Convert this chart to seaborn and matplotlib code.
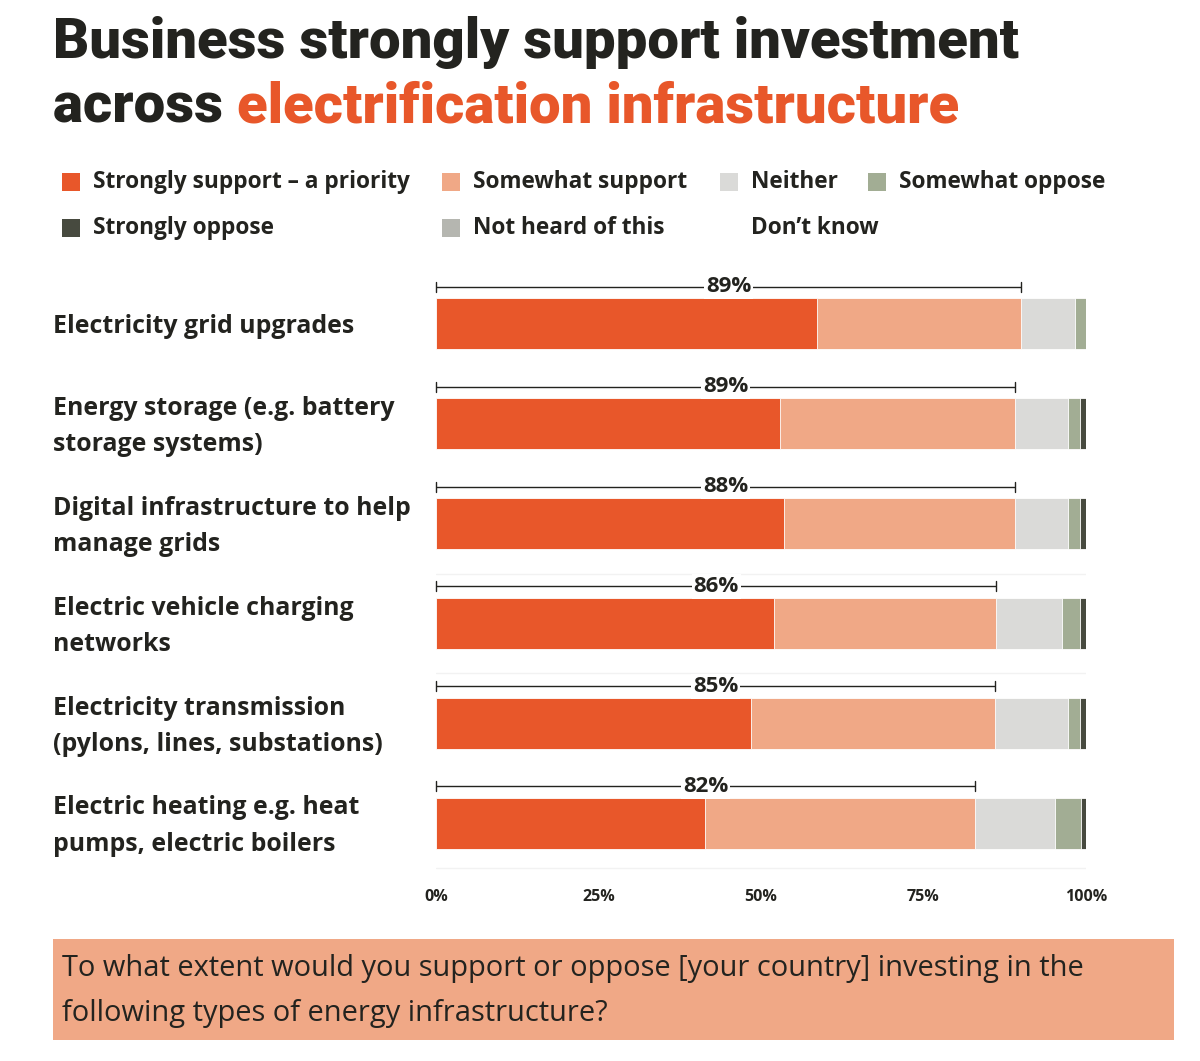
import matplotlib
matplotlib.use("Agg")
import matplotlib.pyplot as plt
import matplotlib.transforms as mtransforms
from matplotlib.patches import Rectangle
import seaborn as sns
import numpy as np
import pandas as pd

#---- Data -------------------------------------------------------------####

categories = [
    "Electricity grid upgrades",
    "Energy storage (e.g. battery\nstorage systems)",
    "Digital infrastructure to help\nmanage grids",
    "Electric vehicle charging\nnetworks",
    "Electricity transmission\n(pylons, lines, substations)",
    "Electric heating e.g. heat\npumps, electric boilers",
]
strongly_support = [58.6, 53.0, 53.5, 52.0, 48.5, 41.4]
somewhat_support = [31.4, 36.1, 35.6, 34.2, 37.5, 41.5]
neither = [8.3, 8.1, 8.1, 10.1, 11.2, 12.3]
somewhat_oppose = [1.7, 1.9, 1.9, 2.8, 1.9, 4.0]
strongly_oppose = [0.0, 0.9, 0.9, 0.9, 0.9, 0.8]
not_heard = [0.0, 0.0, 0.0, 0.0, 0.0, 0.0]
dont_know = [0.0, 0.0, 0.0, 0.0, 0.0, 0.0]
support_totals = [89, 89, 88, 86, 85, 82]

series_names = ["Strongly support \u2013 a priority", "Somewhat support", "Neither",
                "Somewhat oppose", "Strongly oppose", "Not heard of this", "Don\u2019t know"]
series_values = [strongly_support, somewhat_support, neither, somewhat_oppose,
                 strongly_oppose, not_heard, dont_know]
series_colors = ["#E8572A", "#F0A886", "#DADAD8", "#A2AD94", "#474A3F", "#B5B6B0", "#FFFFFF"]

tick_values = [0, 25, 50, 75, 100]
tick_labels = ["0%", "25%", "50%", "75%", "100%"]

#---- Settings ---------------------------------------------------------####

sns.set_style("white")
plt.rcParams['font.family'] = ['Open Sans', 'DejaVu Sans']
dark = "#23231F"
orange = "#E8572A"
title_font = ["Roboto", "DejaVu Sans"]

# cumulative table for stacked bars
df = pd.DataFrame({"category": categories})
cum = np.zeros(len(categories))
for name, vals in zip(series_names, series_values):
    cum = cum + np.array(vals)
    df[name] = cum

fig = plt.figure(figsize=(12, 10.61), dpi=100)
ax = fig.add_axes([0.3633, 0.1753, 0.5417, 0.5608])

#---- Bars -------------------------------------------------------------####

for name, color in reversed(list(zip(series_names, series_colors))):
    sns.barplot(data=df, x=name, y="category", orient="h", color=color,
                saturation=1, width=0.51, edgecolor="white", linewidth=0.6, ax=ax)

ax.set_xlim(0, 100)
ax.set_ylim(5.52, -0.44)
ax.set_xlabel("")
ax.set_ylabel("")
ax.set_yticks([])
ax.set_xticks(tick_values)
ax.set_xticklabels(tick_labels, fontsize=11.5, fontweight="bold", color=dark)
ax.tick_params(axis="x", length=0, pad=10)
for s in ax.spines.values():
    s.set_visible(False)

# faint separators
for yy in [2.5, 3.5, 5.45]:
    ax.axhline(yy, color="#F2F2F2", lw=1, zorder=0)

# support brackets
support_end = df["Somewhat support"].values
for i, (end, tot) in enumerate(zip(support_end, support_totals)):
    yb = i - 0.37
    ax.plot([0, end], [yb, yb], color=dark, lw=1, solid_capstyle="butt", clip_on=False)
    ax.plot([0, 0], [yb - 0.05, yb + 0.05], color=dark, lw=1, clip_on=False)
    ax.plot([end, end], [yb - 0.05, yb + 0.05], color=dark, lw=1, clip_on=False)
    ax.text(end / 2, yb, f"{tot}%", ha="center", va="center", fontsize=16,
            fontweight="bold", color=dark,
            bbox=dict(facecolor="white", edgecolor="none", pad=1.5))

# category labels
trans = mtransforms.blended_transform_factory(fig.transFigure, ax.transData)
for i, cat in enumerate(categories):
    ax.text(0.044, i + 0.03, cat, transform=trans, ha="left", va="center", fontsize=17.9,
            fontweight="bold", color=dark, linespacing=1.6)

#---- Title ------------------------------------------------------------####

fig.text(0.044, 0.96, "Business strongly support investment", fontsize=40.5,
         fontweight="black", color=dark, va="center", family=title_font)
t2 = fig.text(0.044, 0.899, "across ", fontsize=40.5, fontweight="black", color=dark,
              va="center", family=title_font)
ax.annotate("electrification infrastructure", xy=(1, 0.5), xycoords=t2,
            va="center", ha="left", fontsize=40.5, fontweight="black", color=orange,
            family=title_font, annotation_clip=False)

#---- Legend -----------------------------------------------------------####

legend_x = [62, 442, 720, 868, 62, 442, 720]
legend_y = [182, 182, 182, 182, 228, 228, 228]
for k, (xp, yp) in enumerate(zip(legend_x, legend_y)):
    fx = xp / 1200
    fy = 1 - yp / 1061
    fig.patches.append(Rectangle((fx, fy - 9 / 1061), 18 / 1200, 18 / 1061,
                                 transform=fig.transFigure, facecolor=series_colors[k],
                                 edgecolor="none"))
    fig.text(fx + 31 / 1200, fy, series_names[k], ha="left", va="center", fontsize=16.3,
             fontweight="bold", color=dark)

#---- Question box -----------------------------------------------------####

fig.patches.append(Rectangle((53 / 1200, 1 - 1040 / 1061), 1121 / 1200, 101 / 1061,
                             transform=fig.transFigure, facecolor="#F0A886", edgecolor="none"))
fig.text(62 / 1200, 1 - 991 / 1061,
         "To what extent would you support or oppose [your country] investing in the\n"
         "following types of energy infrastructure?",
         ha="left", va="center", fontsize=20.9, color=dark, linespacing=1.7)

plt.savefig("out.png", dpi=100)
